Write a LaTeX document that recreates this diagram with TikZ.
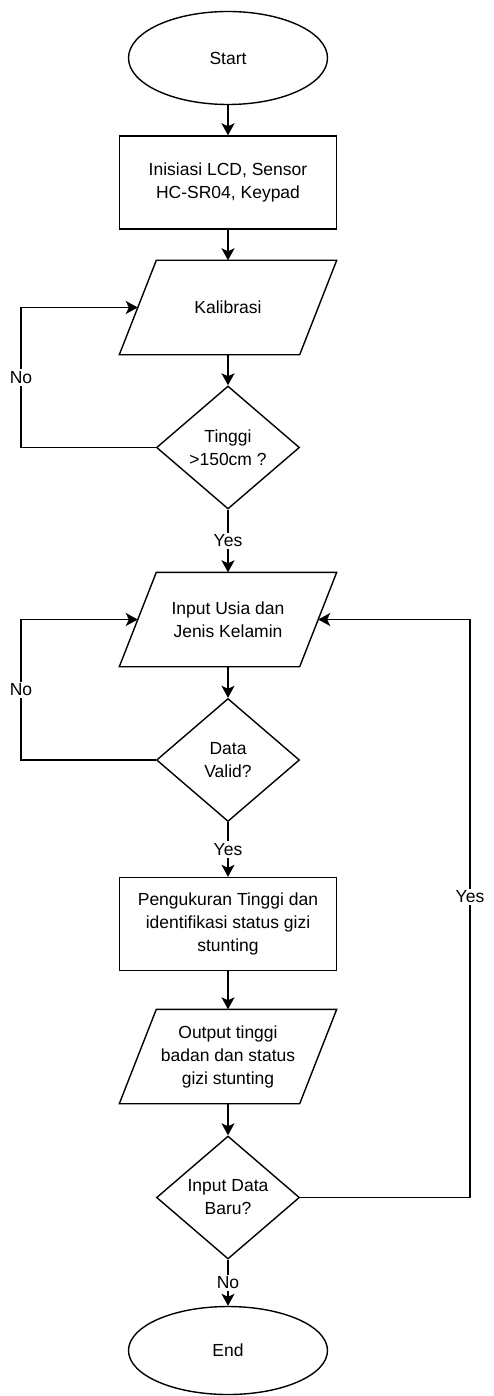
\documentclass[tikz,border=0pt]{standalone}
\usepackage{fontspec}
\setmainfont{Liberation Sans}
\usetikzlibrary{shapes.geometric,arrows.meta}

\begin{document}
\begin{tikzpicture}[x=1pt, y=-1pt, line width=1.4pt,
        every node/.style={font=\fontsize{17.5}{23}\selectfont, align=center},
        terminal/.style={ellipse, draw, minimum width=199pt, minimum height=93pt, inner sep=0pt},
        process/.style={rectangle, draw, minimum width=217pt, minimum height=93pt, inner sep=0pt},
        io/.style={rectangle, minimum width=179pt, minimum height=93pt, inner sep=0pt},
        decision/.style={diamond, draw, minimum width=143pt, minimum height=123pt, inner sep=0pt, aspect=1.16},
        arr/.style={-{Stealth[length=12pt, width=13pt, inset=3pt]}},
        lbl/.style={fill=white, inner sep=2pt}]
        \useasboundingbox (0,0) rectangle (493,1396);

        % Define the steps of the flowchart
        \node[terminal] (start) at (228,58) {Start};
        \node[process] (init) at (228,182.5) {Inisiasi LCD, Sensor\\HC-SR04, Keypad};
        \node[io] (kalib) at (228,307.5) {Kalibrasi};
        \node[decision] (tinggi) at (228,447.5) {Tinggi\\>150cm ?};
        \node[io] (input) at (228,619.5) {Input Usia dan\\Jenis Kelamin};
        \node[decision] (valid) at (228,760) {Data\\Valid?};
        \node[process] (ukur) at (228,924) {Pengukuran Tinggi dan\\identifikasi status gizi\\stunting};
        \node[io] (output) at (228,1056.5) {Output tinggi\\badan dan status\\gizi stunting};
        \node[decision] (baru) at (228,1197.5) {Input Data\\Baru?};
        \node[terminal, minimum height=88pt] (end) at (228,1350.5) {End};

        % Slanted sides of the input/output boxes
        \foreach \n in {kalib, input, output}
            \draw ([xshift=18.5pt]\n.north west) -- ([xshift=18.5pt]\n.north east)
                -- ([xshift=-18.5pt]\n.south east) -- ([xshift=-18.5pt]\n.south west) -- cycle;

        % Draw the main flow
        \draw[arr] (start) -- (init);
        \draw[arr] (init) -- (kalib);
        \draw[arr] (kalib) -- (tinggi);
        \draw[arr] (tinggi) -- node[lbl] {Yes} (input);
        \draw[arr] (input) -- (valid);
        \draw[arr] (valid) -- node[lbl] {Yes} (ukur);
        \draw[arr] (ukur) -- (output);
        \draw[arr] (output) -- (baru);
        \draw[arr] (baru) -- node[lbl] {No} (end);

        % Draw the loops back
        \draw[arr] (tinggi.west) -- (21,447.5) |- node[lbl, pos=0.25] {No} (kalib.west);
        \draw[arr] (valid.west) -- (21,760) |- node[lbl, pos=0.25] {No} (input.west);
        \draw[arr] (baru.east) -- (470,1197.5) |- node[lbl, pos=0.26] {Yes} (input.east);
    \end{tikzpicture}
\end{document}
